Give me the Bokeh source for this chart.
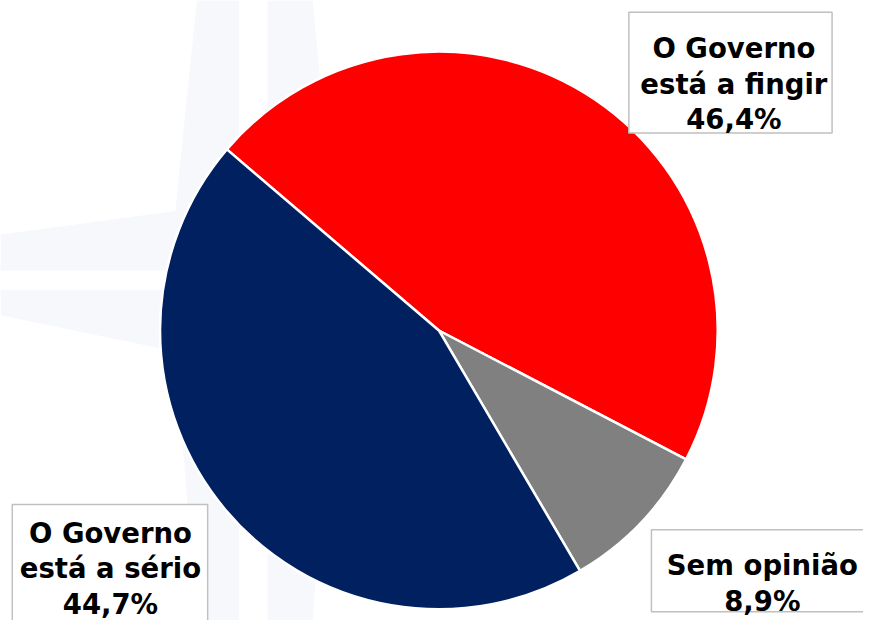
import math
from bokeh.plotting import figure
from bokeh.models import Range1d
from bokeh.core.properties import value
from bokeh.embed import file_html
from bokeh.resources import INLINE

# ---- data ----
categories = ["O Governo\nestá a fingir", "Sem opinião", "O Governo\nestá a sério"]
values = [46.4, 8.9, 44.7]
colors = ["#FF0000", "#808080", "#002060"]

# ---- layout (reference pixel coordinates) ----
W, H = 879, 636
def Y(py):
    return H - py

CX, CY, R = 446.5, Y(338.5), 284
START_DEG = 139.5

# label layout: text centre x, first baseline y, box (l, r, t, b)
label_layout = [
    (747, 49, (640, 847, 12, 136)),
    (776, 579, (663, 900, 543, 627)),
    (112, 546, (12, 211, 517, 660)),
]
LINE_STEP = 36.5

p = figure(width=863, height=620,
           x_range=Range1d(0, W), y_range=Range1d(0, H),
           output_backend="svg", toolbar_location=None, min_border=0)
p.axis.visible = False
p.grid.visible = False
p.outline_line_color = None
p.background_fill_color = "white"
p.border_fill_color = "white"

# faint watermark (decorative star logo)
wm = [
    [(200, 0), (243, 0), (243, 277), (0, 277), (0, 240), (178, 216)],
    [(272, 0), (318, 0), (338, 216), (520, 240), (520, 277), (272, 277)],
    [(0, 297), (243, 297), (243, 636), (200, 636), (178, 360), (0, 323)],
    [(272, 297), (520, 297), (520, 323), (338, 360), (318, 636), (272, 636)],
]
p.patches(xs=[[a for a, b in poly] for poly in wm],
          ys=[[Y(b) for a, b in poly] for poly in wm],
          fill_color="#f6f8fc", line_color=None)

# pie
starts, ends = [], []
a = math.radians(START_DEG)
for v in values:
    a2 = a - v / 100 * 2 * math.pi
    starts.append(a2)
    ends.append(a)
    a = a2
p.wedge(x=[CX] * len(values), y=[CY] * len(values), radius=R,
        start_angle=starts, end_angle=ends,
        fill_color=colors, line_color="white", line_width=2.5)

# labels
tx, ty, tt = [], [], []
bl, br, bt, bb = [], [], [], []
for cat, v, (lx, ly, box) in zip(categories, values, label_layout):
    lines = cat.split("\n") + [("%.1f" % v).replace(".", ",") + "%"]
    for i, line in enumerate(lines):
        tx.append(lx)
        ty.append(Y(ly + i * LINE_STEP))
        tt.append(line)
    l, r, t, b = box
    bl.append(l); br.append(r); bt.append(Y(t)); bb.append(Y(b))

p.quad(left=bl, right=br, top=bt, bottom=bb,
       fill_color="white", line_color="#c0c0c0", line_width=1.5)
p.text(x=tx, y=ty, text=tt, text_align="center", text_baseline="alphabetic",
       text_font=value("DejaVu Sans"), text_font_style="bold",
       text_font_size="27.5px", text_color="#000000")

open("out.html", "w").write(file_html(p, INLINE))
